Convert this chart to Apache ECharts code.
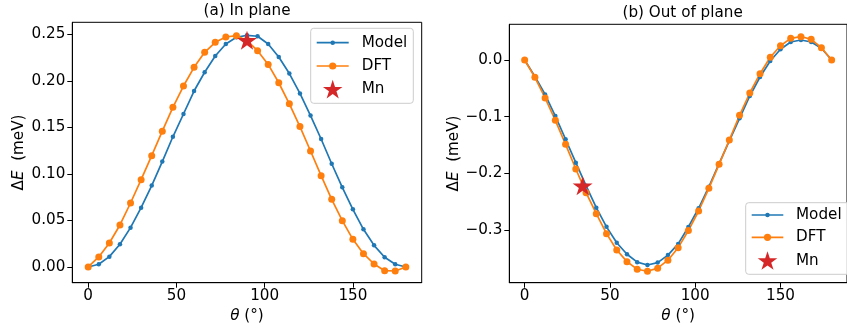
<!DOCTYPE html>
<html>
<head>
<meta charset="utf-8">
<script src="https://cdn.jsdelivr.net/npm/echarts@6/dist/echarts.min.js"></script>
<style>html,body{margin:0;padding:0;background:#fff;}#c{width:847px;height:329px;}</style>
</head>
<body>
<div id="c"></div>
<script>
// ---- data ----
const theta = [0,6,12,18,24,30,36,42,48,54,60,66,72,78,84,90,96,102,108,114,120,126,132,138,144,150,156,162,168,174,180];
const inModel = [0,0.0029,0.0111,0.0244,0.0423,0.0638,0.0875,0.1133,0.140,0.1645,0.1892,0.2094,0.2269,0.2398,0.247,0.2491,0.2481,0.2398,0.2258,0.208,0.1866,0.1628,0.1376,0.111,0.0857,0.062,0.0405,0.0233,0.0104,0.0029,0];
const inDFT = [0,0.0108,0.0258,0.0452,0.0688,0.0939,0.1197,0.146,0.1717,0.1946,0.2147,0.2308,0.2416,0.2473,0.2487,0.2435,0.2326,0.2178,0.1981,0.1755,0.151,0.1247,0.0982,0.0728,0.0498,0.0297,0.0143,0.0032,-0.004,-0.0043,0];
const inMn = [[90, 0.2437]];
const outModel = [0,-0.029,-0.061,-0.099,-0.140,-0.1814,-0.222,-0.261,-0.2948,-0.323,-0.3433,-0.3572,-0.3622,-0.358,-0.3447,-0.325,-0.295,-0.262,-0.224,-0.183,-0.143,-0.103,-0.0636,-0.030,-0.0018,0.0189,0.0318,0.0353,0.0318,0.0207,0];
const outDFT = [0,-0.0306,-0.0671,-0.1066,-0.149,-0.1926,-0.2344,-0.2715,-0.3068,-0.3357,-0.3563,-0.3698,-0.3733,-0.3678,-0.3537,-0.3316,-0.3013,-0.2668,-0.2267,-0.1843,-0.1413,-0.0977,-0.0583,-0.0242,0.0048,0.0253,0.0383,0.0412,0.0366,0.0217,0];
const outMn = [[34, -0.222]];
const xTicks = [0,50,100,150];
const leftYTicks = [0,0.05,0.10,0.15,0.20,0.25];
const rightYTicks = [-0.3,-0.2,-0.1,0.0];
const titles = ['(a) In plane', '(b) Out of plane'];
const legendNames = ['Model', 'DFT', 'Mn'];

// ---- styling ----
const FONT = 'DejaVu Sans';
const FS = 15.2;
const BLUE = '#1f77b4', ORANGE = '#ff7f0e', RED = '#d62728';

function starPoints(cx, cy, R) {
  const pts = [];
  for (let i = 0; i < 10; i++) {
    const a = (-90 + i * 36) * Math.PI / 180;
    const r = (i % 2 === 0) ? R : R * 0.381966;
    pts.push([cx + r * Math.cos(a), cy + r * Math.sin(a)]);
  }
  return pts;
}
const STAR = 'path://M' + starPoints(50, 50, 50).map(p => p[0].toFixed(2) + ',' + p[1].toFixed(2)).join('L') + 'Z';

const zip = (xs, ys) => xs.map((x, i) => [x, ys[i]]);
const fmtTick = (d) => (v) => (v < 0 ? '\u2212' : '') + Math.abs(v).toFixed(d);

function xAxisCfg(gi) {
  return {
    gridIndex: gi, type: 'value', min: -9, max: 189,
    name: '{i|\u03b8}{n| (\u00b0)}', nameLocation: 'middle', nameGap: 23,
    nameTextStyle: { rich: { i: { fontFamily: FONT, fontSize: FS, fontStyle: 'italic', color: '#000' }, n: { fontFamily: FONT, fontSize: FS, color: '#000' } } },
    axisLine: { show: true, onZero: false, lineStyle: { color: '#000', width: 1 } },
    axisTick: { show: true, length: 5, lineStyle: { color: '#000' }, customValues: xTicks },
    axisLabel: { show: true, margin: 6, fontFamily: FONT, fontSize: FS, color: '#000', customValues: xTicks, formatter: (v) => String(v) },
    splitLine: { show: false }
  };
}
function yAxisCfg(gi, min, max, ticks, dec, gap) {
  return {
    gridIndex: gi, type: 'value', min: min, max: max,
    name: '{n|\u0394}{i|E}{n|  (meV)}', nameLocation: 'middle', nameGap: gap,
    nameTextStyle: { rich: { i: { fontFamily: FONT, fontSize: FS, fontStyle: 'italic', color: '#000' }, n: { fontFamily: FONT, fontSize: FS, color: '#000' } } },
    axisLine: { show: true, onZero: false, lineStyle: { color: '#000', width: 1 } },
    axisTick: { show: true, length: 5, lineStyle: { color: '#000' }, customValues: ticks },
    axisLabel: { show: true, margin: 7, fontFamily: FONT, fontSize: FS, color: '#000', customValues: ticks, formatter: fmtTick(dec) },
    splitLine: { show: false }
  };
}
function lineSeries(name, gi, data, color, size) {
  return {
    name: name, type: 'line', xAxisIndex: gi, yAxisIndex: gi, data: data,
    symbol: 'circle', symbolSize: size, showSymbol: true, clip: false,
    lineStyle: { color: color, width: 1.7 }, itemStyle: { color: color, opacity: 1 },
    emphasis: { disabled: true }, animation: false
  };
}
function starSeries(gi, data) {
  return {
    name: 'Mn', type: 'scatter', xAxisIndex: gi, yAxisIndex: gi, data: data,
    symbol: STAR, symbolSize: 20, symbolKeepAspect: true, z: 5,
    itemStyle: { color: RED, opacity: 1 }, emphasis: { disabled: true }, animation: false
  };
}
// legend drawn as a box with line/marker samples and text
function legendGraphics(bx, by, bw, bh, lx0, lx1, tx, rows) {
  const cx = (lx0 + lx1) / 2;
  const els = [
    { type: 'rect', z: 10, shape: { x: bx, y: by, width: bw, height: bh, r: 3 }, style: { fill: 'rgba(255,255,255,0.8)', stroke: '#cccccc', lineWidth: 1 } },
    { type: 'line', z: 11, shape: { x1: lx0, y1: rows[0], x2: lx1, y2: rows[0] }, style: { stroke: BLUE, lineWidth: 1.7 } },
    { type: 'circle', z: 11, shape: { cx: cx, cy: rows[0], r: 2.25 }, style: { fill: BLUE } },
    { type: 'line', z: 11, shape: { x1: lx0, y1: rows[1], x2: lx1, y2: rows[1] }, style: { stroke: ORANGE, lineWidth: 1.7 } },
    { type: 'circle', z: 11, shape: { cx: cx, cy: rows[1], r: 3.6 }, style: { fill: ORANGE } },
    { type: 'polygon', z: 11, shape: { points: starPoints(cx, rows[2] + 0.8, 10.3) }, style: { fill: RED } }
  ];
  legendNames.forEach((n, i) => {
    els.push({ type: 'text', z: 11, style: { x: tx, y: rows[i], text: n, fontFamily: FONT, fontSize: FS, fill: '#000', verticalAlign: 'middle', align: 'left' } });
  });
  return els;
}

const chart = echarts.init(document.getElementById('c'), null, { renderer: 'canvas' });
chart.setOption({
  animation: false,
  backgroundColor: '#fff',
  title: [
    { text: titles[0], left: 247, top: 3.5, textAlign: 'center', padding: 0, textStyle: { fontFamily: FONT, fontSize: FS, fontWeight: 'normal', color: '#000' } },
    { text: titles[1], left: 682.6, top: 5.5, textAlign: 'center', padding: 0, textStyle: { fontFamily: FONT, fontSize: FS, fontWeight: 'normal', color: '#000' } }
  ],
  grid: [
    { left: 72.3, top: 22.3, width: 349.4, height: 260.4, show: true, borderColor: '#000', borderWidth: 1, backgroundColor: 'transparent' },
    { left: 509.3, top: 24.3, width: 346.6, height: 258.4, show: true, borderColor: '#000', borderWidth: 1, backgroundColor: 'transparent' }
  ],
  xAxis: [xAxisCfg(0), xAxisCfg(1)],
  yAxis: [
    yAxisCfg(0, -0.0169, 0.2631, leftYTicks, 2, 46),
    yAxisCfg(1, -0.3935, 0.0631, rightYTicks, 1, 47)
  ],
  graphic: [
    ...legendGraphics(310.7, 28.3, 102.6, 75, 316.7, 348.7, 361.7, [42.7, 66, 89.3]),
    ...legendGraphics(745.7, 202.7, 120, 71.6, 751.7, 783.3, 796, [215, 237.3, 260.7])
  ],
  series: [
    lineSeries('Model', 0, zip(theta, inModel), BLUE, 4.5),
    lineSeries('DFT', 0, zip(theta, inDFT), ORANGE, 7),
    starSeries(0, inMn),
    lineSeries('Model', 1, zip(theta, outModel), BLUE, 4.5),
    lineSeries('DFT', 1, zip(theta, outDFT), ORANGE, 7),
    starSeries(1, outMn)
  ]
});
</script>
</body>
</html>
